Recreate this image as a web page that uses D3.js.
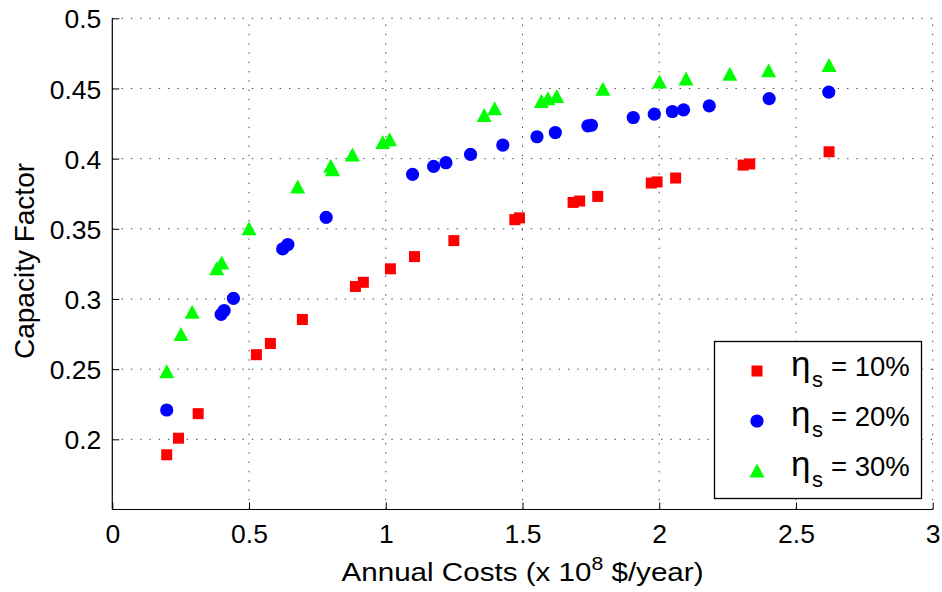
<!DOCTYPE html>
<html>
<head>
<meta charset="utf-8">
<script src="https://cdn.jsdelivr.net/npm/d3@7"></script>
<style>
  html, body { margin: 0; padding: 0; background: #fff; }
  svg text { font-family: "Liberation Sans", Arial, sans-serif; fill: #000; }
</style>
</head>
<body>
<svg id="chart" width="942" height="592"></svg>
<script>
// Annual costs (x 10^8 $/year) and capacity factor for each storage efficiency
const cost10 = [0.199, 0.242, 0.314, 0.527, 0.578, 0.695, 0.889, 0.918, 1.017, 1.105, 1.249,
                1.472, 1.489, 1.685, 1.709, 1.775, 1.971, 1.992, 2.060, 2.307, 2.331, 2.621];
const cf10   = [0.189, 0.2008, 0.2183, 0.2603, 0.2683, 0.2854, 0.3089, 0.3119, 0.3215, 0.3302, 0.3416,
                0.3565, 0.3578, 0.3688, 0.3698, 0.3731, 0.3826, 0.3834, 0.3862, 0.3954, 0.3962, 0.4049];

const cost20 = [0.199, 0.398, 0.409, 0.443, 0.623, 0.642, 0.782, 1.098, 1.175, 1.220, 1.310, 1.428,
                1.553, 1.620, 1.739, 1.752, 1.905, 1.982, 2.048, 2.089, 2.183, 2.402, 2.620];
const cf20   = [0.2209, 0.2890, 0.2918, 0.3004, 0.3357, 0.3388, 0.3582, 0.3888, 0.3945, 0.3971, 0.4030, 0.4097,
                0.4156, 0.4186, 0.4234, 0.4238, 0.4293, 0.4317, 0.4336, 0.4348, 0.4376, 0.4428, 0.4474];

const cost30 = [0.199, 0.251, 0.292, 0.382, 0.400, 0.500, 0.678, 0.799, 0.805, 0.878, 0.989, 1.014,
                1.360, 1.398, 1.569, 1.593, 1.625, 1.794, 2.001, 2.098, 2.258, 2.400, 2.621];
const cf30   = [0.2482, 0.2747, 0.2906, 0.3215, 0.3257, 0.3501, 0.3798, 0.3945, 0.3921, 0.4026, 0.4115, 0.4134,
                0.4307, 0.4355, 0.4407, 0.4426, 0.4442, 0.4495, 0.4547, 0.4568, 0.4602, 0.4627, 0.4663];

const seriesNames = ["10%", "20%", "30%"];
const xTicks = [0, 0.5, 1, 1.5, 2, 2.5, 3];
const yTicks = [0.2, 0.25, 0.3, 0.35, 0.4, 0.45, 0.5];

const svg = d3.select("#chart");
const plotL = 112.3, plotR = 932.7, plotT = 18.3, plotB = 509.5;

const x = d3.scaleLinear().domain([0, 3]).range([plotL, plotR]);
const y = d3.scaleLinear().domain([0.15, 0.5]).range([plotB, plotT]);

// dotted grid
const grid = svg.append("g").attr("stroke", "#444").attr("stroke-width", 1)
  .attr("stroke-dasharray", "1.4,7.9");
grid.selectAll("line.gx").data(xTicks.filter(d => d > 0)).join("line")
  .attr("x1", d => x(d)).attr("x2", d => x(d)).attr("y1", plotB).attr("y2", plotT);
grid.selectAll("line.gy").data(yTicks).join("line")
  .attr("y1", d => y(d)).attr("y2", d => y(d)).attr("x1", plotL).attr("x2", plotR);

// axes with inward ticks
const xAxis = d3.axisBottom(x).tickValues(xTicks).tickFormat(d3.format("")).tickSize(-7).tickPadding(15);
const yAxis = d3.axisLeft(y).tickValues(yTicks).tickFormat(d3.format("")).tickSize(-7).tickPadding(11);

const gx = svg.append("g").attr("transform", `translate(0,${plotB})`).call(xAxis);
const gy = svg.append("g").attr("transform", `translate(${plotL},0)`).call(yAxis);
[gx, gy].forEach(g => {
  g.select(".domain").attr("stroke", "#000").attr("stroke-width", 1.2);
  g.selectAll(".tick line").attr("stroke", "#000").attr("stroke-width", 1);
  g.selectAll(".tick text").attr("font-size", 26.5).attr("font-family", "Liberation Sans, Arial, sans-serif").attr("fill", "#000");
});
gx.select(".domain").attr("d", `M${plotL},0H${plotR}`);
gy.select(".domain").attr("d", `M0,${plotB}V${plotT}`);
gx.selectAll(".tick text").attr("dy", "0.7em");
gy.selectAll(".tick text").attr("dy", "0.36em");

// axis titles
const xt = svg.append("text").attr("x", (plotL + plotR) / 2).attr("y", 581)
  .attr("text-anchor", "middle").attr("font-size", 26.5)
  .attr("textLength", 362).attr("lengthAdjust", "spacingAndGlyphs");
xt.append("tspan").text("Annual Costs (x 10");
xt.append("tspan").attr("font-size", 19).attr("dy", -11).text("8");
xt.append("tspan").attr("dy", 11).text(" $/year)");

svg.append("text").attr("transform", "translate(34,261) rotate(-90)")
  .attr("text-anchor", "middle").attr("font-size", 28).text("Capacity Factor");

// marker shapes
const sq = 11, rc = 6.6, tw = 15, th = 13;
function drawMarker(sel, kind, color) {
  if (kind === 0) {
    sel.append("rect").attr("x", -sq / 2).attr("y", -sq / 2).attr("width", sq).attr("height", sq).attr("fill", color);
  } else if (kind === 1) {
    sel.append("circle").attr("r", rc).attr("fill", color);
  } else {
    sel.append("path").attr("d", `M0,${-th / 2 - 1}L${tw / 2},${th / 2}L${-tw / 2},${th / 2}Z`).attr("fill", color);
  }
}

const colors = ["#ff0000", "#0000ff", "#00ff00"];
const series = [
  d3.zip(cost10, cf10),
  d3.zip(cost20, cf20),
  d3.zip(cost30, cf30)
];

series.forEach((pts, k) => {
  const g = svg.append("g");
  g.selectAll("g").data(pts).join("g")
    .attr("transform", d => `translate(${x(d[0])},${y(d[1])})`)
    .each(function () { drawMarker(d3.select(this), k, colors[k]); });
});

// legend
const lg = svg.append("g");
lg.append("rect").attr("x", 714.5).attr("y", 341.5).attr("width", 207).attr("height", 157)
  .attr("fill", "#fff").attr("stroke", "#000").attr("stroke-width", 1.3);
seriesNames.forEach((name, i) => {
  const cy = 371 + i * 50;
  const m = lg.append("g").attr("transform", `translate(757,${cy})`);
  drawMarker(m, i, colors[i]);
  const base = cy + 5;
  const t = lg.append("text").attr("y", base);
  t.append("tspan").attr("x", 791).attr("font-size", 35).text("η");
  t.append("tspan").attr("x", 812).attr("y", base + 11).attr("font-size", 22).text("s");
  t.append("tspan").attr("x", 831).attr("y", base).attr("font-size", 27.5).text("= " + name);
});
</script>
</body>
</html>
